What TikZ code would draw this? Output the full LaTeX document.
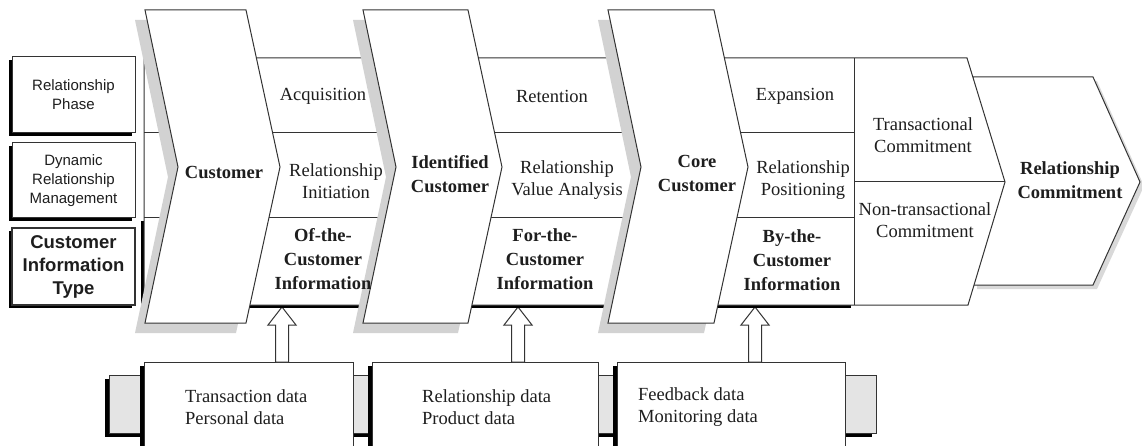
\documentclass[tikz,border=0pt]{standalone}
\usepackage{fontspec}
\setmainfont{Liberation Serif}
\setsansfont{Liberation Sans}
\usetikzlibrary{shadows,calc}
\definecolor{lncol}{HTML}{333333}
\definecolor{shgray}{HTML}{D2D2D2}
\definecolor{stripgray}{HTML}{E4E4E4}
\definecolor{txt}{HTML}{1E1E1E}
\newcommand\hollowarrow[2]{%
  \draw[ln, fill=white] let \p1=(#1), \p2=(#2) in
    (\x1-6.5pt,\y1) -- (\x1-6.5pt,\y2-18pt) -- (\x1-14pt,\y2-18pt) -- (\x1,\y2)
    -- (\x1+14pt,\y2-18pt) -- (\x1+6.5pt,\y2-18pt) -- (\x1+6.5pt,\y1) -- cycle;}
\begin{document}
\begin{tikzpicture}[x=1pt,y=-1pt,line join=miter,
  ln/.style={draw=lncol, line width=1pt},
  serif/.style={font=\fontsize{18.5}{22}\selectfont, text=txt, align=center, inner sep=0pt},
  bserif/.style={font=\fontsize{18.5}{24}\selectfont\bfseries, text=txt, align=center, inner sep=0pt},
  sanslab/.style={font=\sffamily\fontsize{15}{19}\selectfont, text=txt, align=center},
  bsanslab/.style={font=\sffamily\bfseries\fontsize{18.5}{23}\selectfont, text=txt, align=center},
  lbox/.style={ln, fill=white, minimum width=123pt, outer sep=0pt,
    general shadow={fill=black, shadow xshift=-3pt, shadow yshift=-3pt}},
  dbox/.style={ln, fill=white, anchor=north west, minimum height=100pt, outer sep=0pt,
    general shadow={fill=black, shadow xshift=-4pt, shadow yshift=-4pt}},
  datatext/.style={font=\fontsize{18.5}{22}\selectfont, text=txt, align=left, anchor=west, inner sep=0pt}
]
\clip (0,0) rectangle (1142,446);
\fill[white] (0,0) rectangle (1142,446);

% ---- bottom data strip and boxes ----
\fill[black] (105,379) rectangle (872,437);
\draw[ln, fill=stripgray] (109,375) rectangle (876,433);
\node[dbox, minimum width=209pt] (d1) at (144,362) {};
\node[dbox, minimum width=226pt] (d2) at (372,362) {};
\node[dbox, minimum width=228pt] (d3) at (617,362) {};
\node[datatext] (dt1) at (185,407) {Transaction data\\Personal data};
\node[datatext] (dt2) at (422,407) {Relationship data\\Product data};
\node[datatext] (dt3) at (638,407) {Feedback data\\Monitoring data};

% ---- arrows ----
\coordinate (a1) at (282,307);
\coordinate (a2) at (518,307);
\coordinate (a3) at (755,307);
\coordinate (b1) at (a1 |- d1.north);
\coordinate (b2) at (a2 |- d2.north);
\coordinate (b3) at (a3 |- d3.north);
\hollowarrow{b1}{a1}
\hollowarrow{b2}{a2}
\hollowarrow{b3}{a3}

% ---- relationship commitment pentagon ----
\fill[black!15] (977,81) -- (1097,81) -- (1144,186) -- (1097,289) -- (977,289) -- cycle;
\draw[ln, fill=white] (973,77) -- (1093,77) -- (1140,182) -- (1093,285) -- (973,285) -- cycle;

% ---- left label boxes ----
\node[lbox, minimum height=76pt, sanslab] (l1) at (73.5,95) {Relationship\\Phase};
\node[lbox, minimum height=75pt, sanslab] (l2) at (73.5,180.5) {Dynamic\\Relationship\\Management};
\node[lbox, minimum height=77pt, line width=1.6pt, bsanslab] (l3) at (73.5,266.5) {Customer\\Information\\Type};

% ---- band ----
\fill[black] (141,221) rectangle (851,308);
\draw[ln, fill=white] (144,58) -- (967,58) -- (1005,182) -- (968,305) -- (144,305) -- cycle;
\draw[ln] (144,133) -- (854,133);
\draw[ln] (144,218) -- (854,218);
\draw[ln] (854,58) -- (854,305);
\draw[ln] (854,182) -- (1005,182);

% ---- chevrons ----
\foreach \x/\w in {145/101, 363/105, 608/106}{
  \fill[shgray] (\x-10,20) -- (\x+\w-10,20) -- (\x+\w+24,177) -- (\x+\w-10,333) -- (\x-10,333) -- (\x+23,177) -- cycle;
}
\foreach \x/\w in {145/101, 363/105, 608/106}{
  \draw[ln, fill=white] (\x,10) -- (\x+\w,10) -- (\x+\w+34,167) -- (\x+\w,323) -- (\x,323) -- (\x+33,167) -- cycle;
}

% ---- texts ----
\node[bserif] (c1) at (224,172) {Customer};
\node[bserif] (c2) at (450,174) {Identified\\Customer};
\node[bserif] (c3) at (697,173) {Core\\Customer};
\node[bserif] (c4) at (1070,180) {Relationship\\Commitment};

\node[serif] (p1) at (323,96) {Acquisition};
\node[serif] (p2) at (552,96) {Retention};
\node[serif] (p3) at (795,96) {Expansion};

\node[serif] (m1) at (336,181) {Relationship\\Initiation};
\node[serif] (m2) at (567,180) {Relationship\\Value Analysis};
\node[serif] (m3) at (803,180) {Relationship\\Positioning};

\node[bserif] (i1) at (323,259) {Of-the-\\Customer\\Information};
\node[bserif] (i2) at (545,259) {For-the-\\Customer\\Information};
\node[bserif] (i3) at (792,260) {By-the-\\Customer\\Information};

\node[serif] (k1) at (923,135) {Transactional\\Commitment};
\node[serif] (k2) at (925,220) {Non-transactional\\Commitment};
\end{tikzpicture}
\end{document}
